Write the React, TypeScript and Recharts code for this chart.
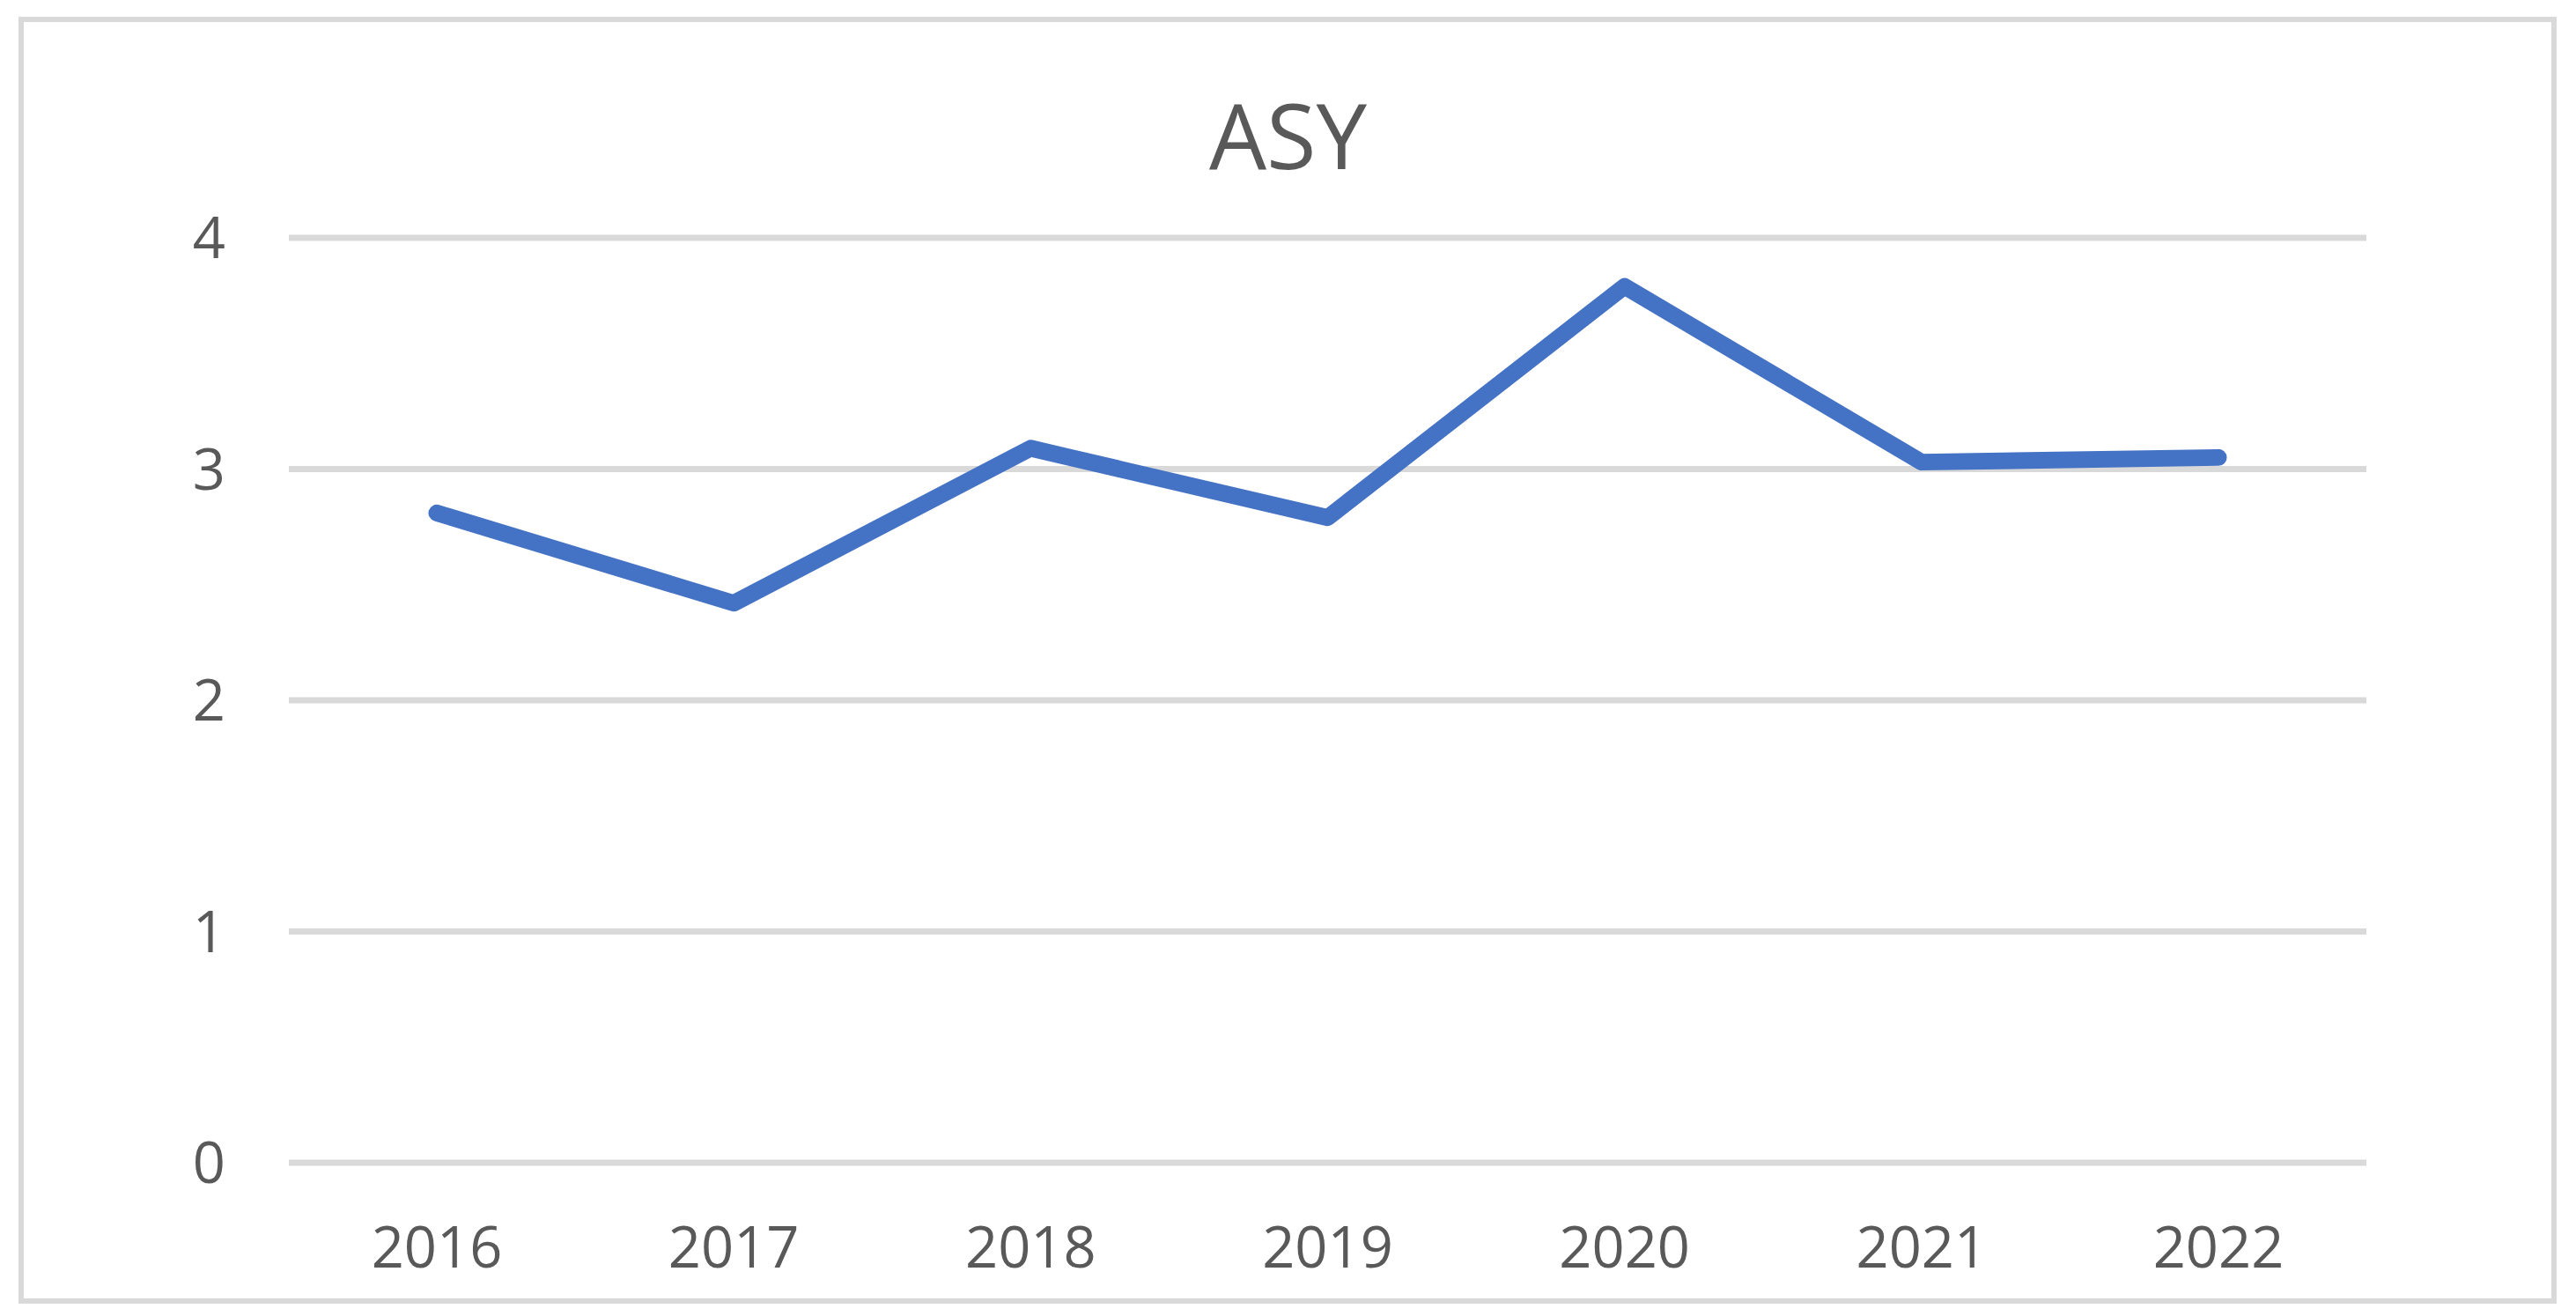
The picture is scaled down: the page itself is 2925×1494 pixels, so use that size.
import { LineChart, Line, XAxis, YAxis, CartesianGrid } from 'recharts';

const years = ['2016', '2017', '2018', '2019', '2020', '2021', '2022'];
const asyValues = [2.81, 2.42, 3.09, 2.79, 3.79, 3.03, 3.05];
const yTicks = [0, 1, 2, 3, 4];
const chartTitle = 'ASY';

const data = years.map((year, i) => ({ year, asy: asyValues[i] }));

const textColor = '#595959';
const fontFamily = '"Open Sans", sans-serif';

const App = () => {
  return (
    <div style={{ position: 'absolute', left: 0, top: 0, width: 2925, height: 1494, background: '#fff' }}>
      <div
        style={{
          position: 'absolute',
          left: 21,
          top: 19,
          width: 2882,
          height: 1461,
          border: '6px solid #d9d9d9',
          boxSizing: 'border-box',
        }}
      />
      <div
        style={{
          position: 'absolute',
          left: 0,
          width: 2925,
          top: 101,
          textAlign: 'center',
          fontFamily,
          fontSize: 103,
          lineHeight: '103px',
          color: textColor,
        }}
      >
        {chartTitle}
      </div>
      <div style={{ position: 'absolute', left: 0, top: 0 }}>
        <LineChart
          width={2925}
          height={1494}
          data={data}
          margin={{ top: 270, right: 238, left: 0, bottom: 74 }}
        >
          <CartesianGrid vertical={false} stroke="#d9d9d9" strokeWidth={7} />
          <XAxis
            dataKey="year"
            axisLine={false}
            tickLine={false}
            height={100}
            padding={{ left: 168, right: 168 }}
            tickMargin={67}
            interval={0}
            tick={{ fill: textColor, fontSize: 65, fontFamily }}
          />
          <YAxis
            domain={[0, 4]}
            ticks={yTicks}
            axisLine={false}
            tickLine={false}
            width={328}
            tickMargin={66}
            tick={{ fill: textColor, fontSize: 65, fontFamily }}
          />
          <Line
            type="linear"
            dataKey="asy"
            stroke="#4472c4"
            strokeWidth={19}
            strokeLinecap="round"
            strokeLinejoin="round"
            dot={false}
            activeDot={false}
            isAnimationActive={false}
          />
        </LineChart>
      </div>
    </div>
  );
};

export default App;
